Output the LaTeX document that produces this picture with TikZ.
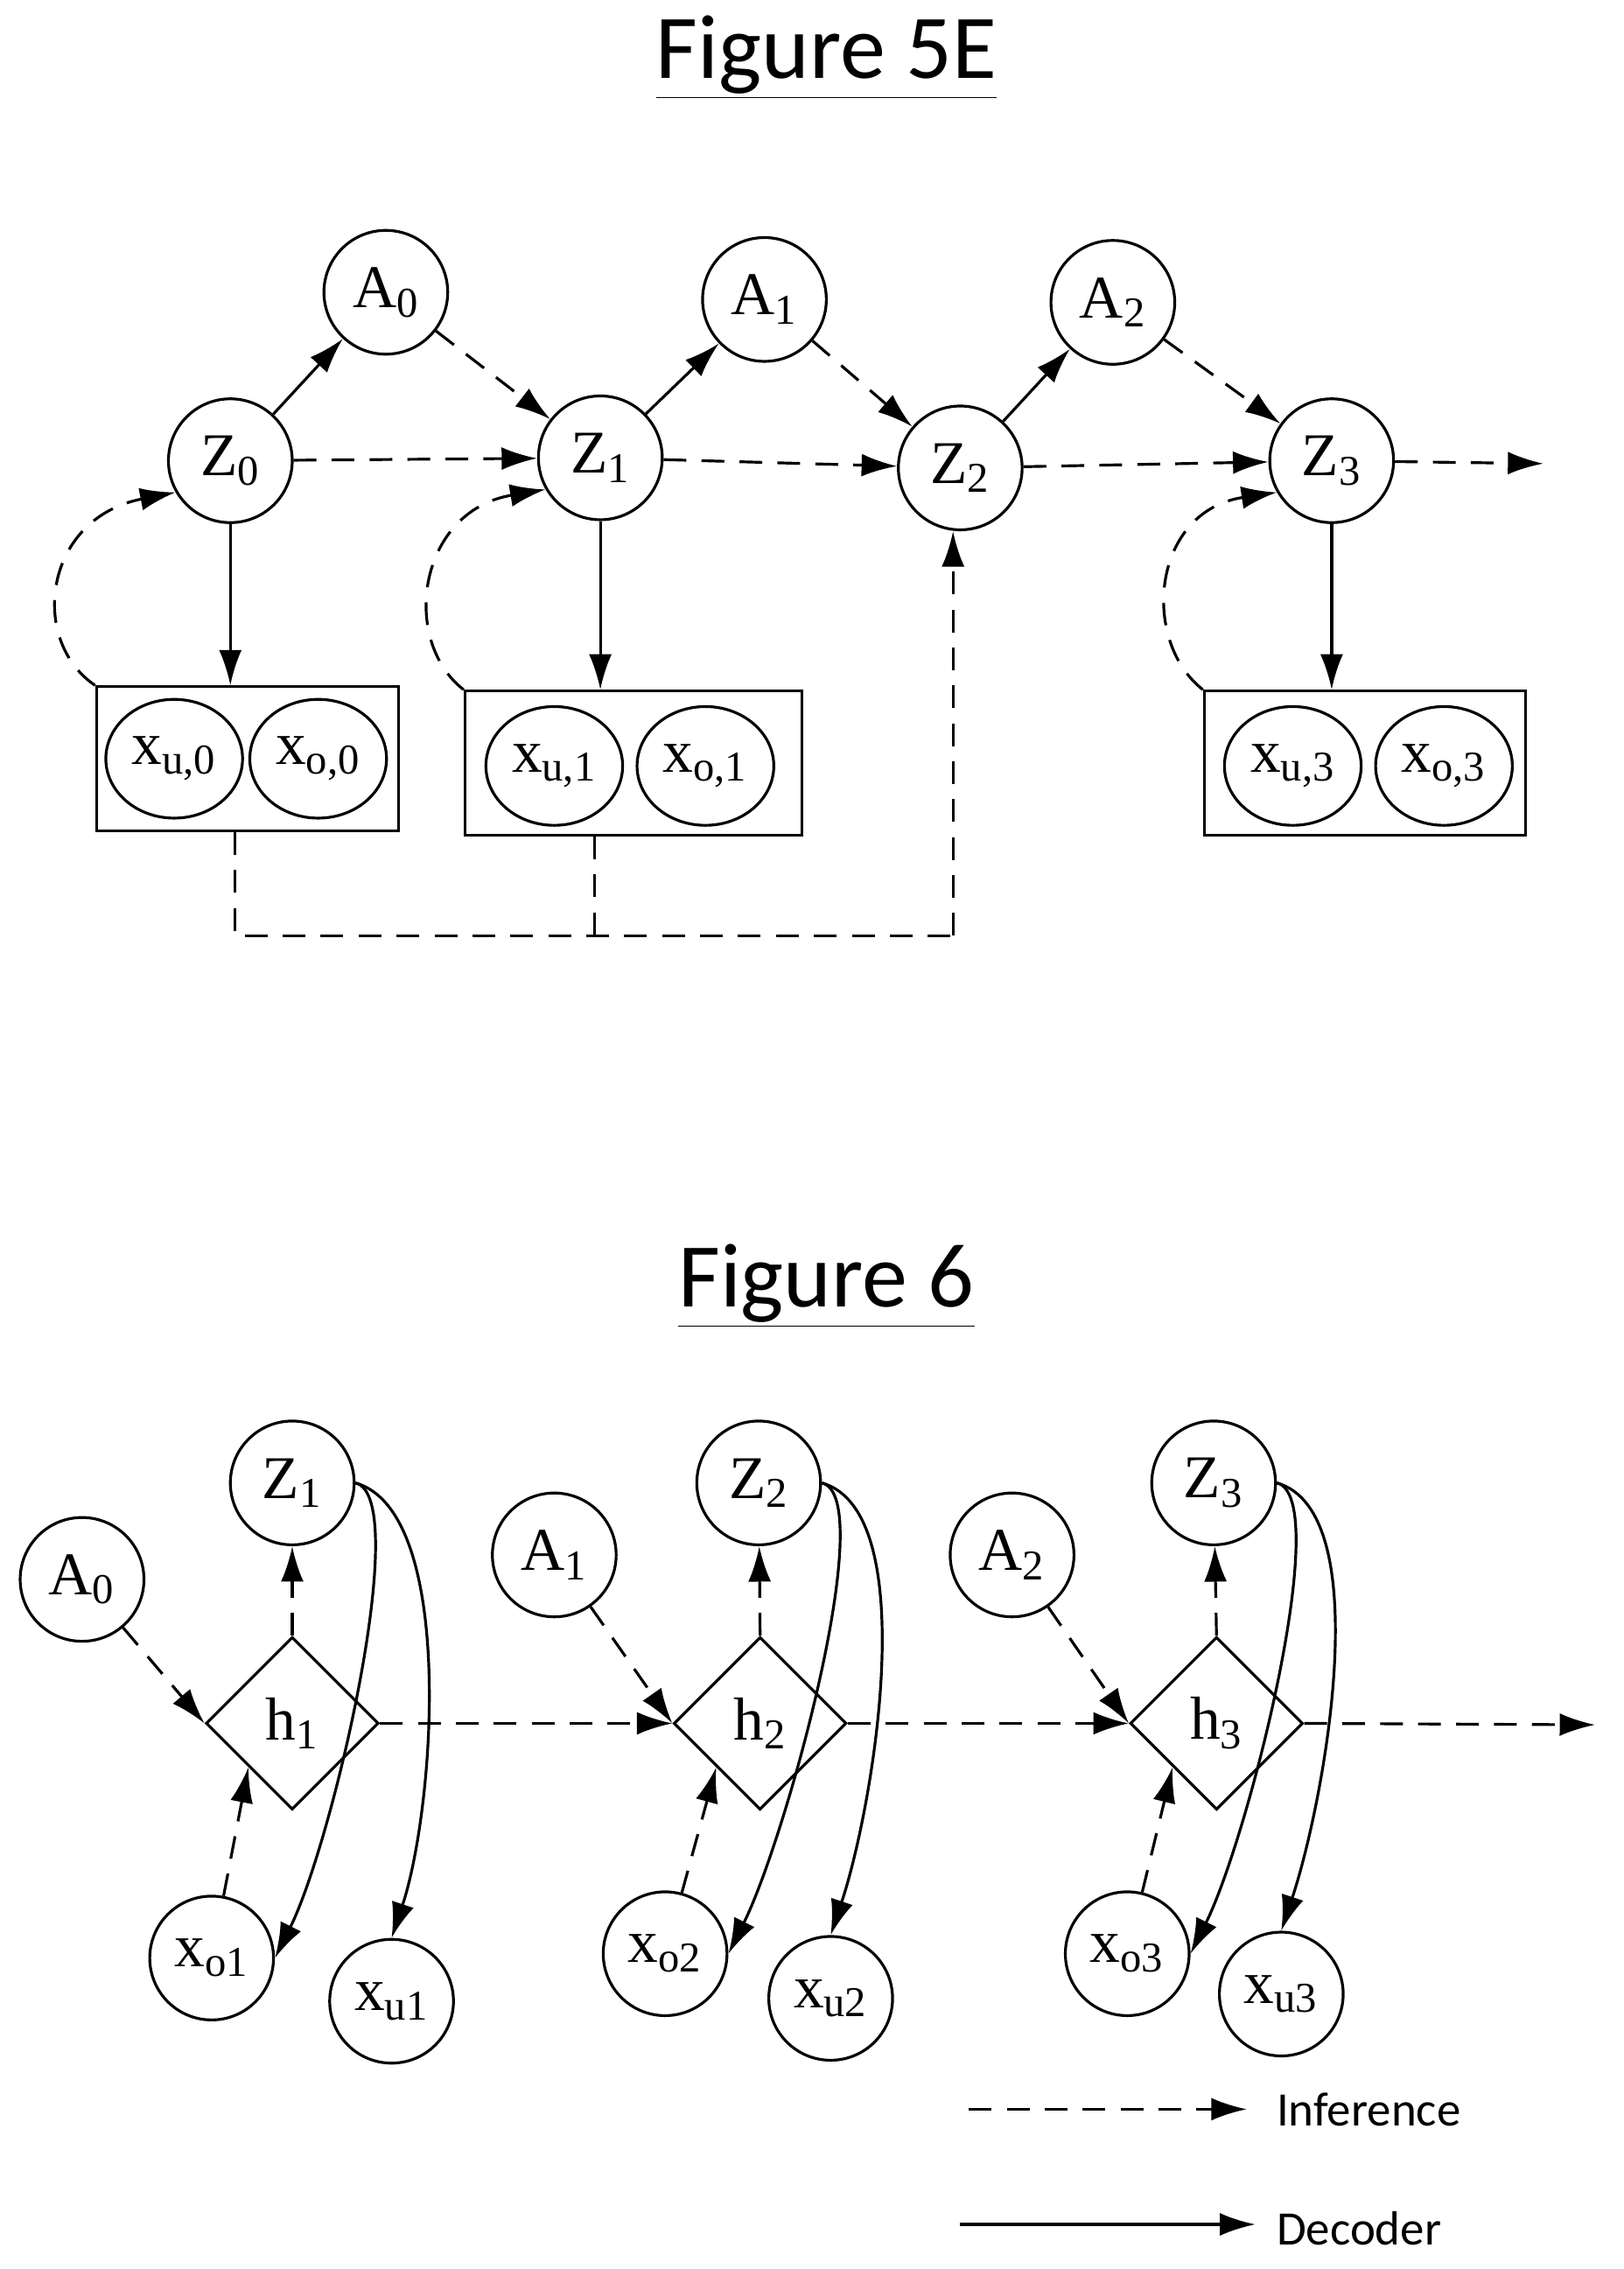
\documentclass[tikz,border=0pt]{standalone}
\usepackage{fontspec}
\setmainfont{Liberation Serif}
\newfontfamily\titlefont{Carlito}
\usetikzlibrary{arrows.meta,shapes.geometric}
\begin{document}
\begin{tikzpicture}[x=0.02cm,y=-0.02cm,line width=1.1pt,
  every node/.style={font=\fontsize{24}{28}\selectfont},
  c/.style={circle,draw,minimum size=1.72cm,inner sep=0pt},
  e/.style={ellipse,draw,minimum width=1.9cm,minimum height=1.65cm,inner sep=0pt},
  bx/.style={draw,inner sep=0pt},
  dm/.style={diamond,draw,minimum size=2.4cm,inner sep=0pt},
  inf/.style={dashed,dash pattern=on 9pt off 6pt,-{Latex[length=14pt,width=9pt]}},
  dec/.style={-{Latex[length=14pt,width=9pt]}},
  dl/.style={dashed,dash pattern=on 9pt off 6pt},
  ttl/.style={font=\titlefont\fontsize{36}{40}\selectfont}]
\useasboundingbox (0,0) rectangle (1128,1576);
% Figure 5E
\node[ttl] (t1) at (574,40) {\underline{Figure 5E}};
\node[c] (A0) at (268,203) {A\textsubscript{0}};
\node[c] (A1) at (531,208) {A\textsubscript{1}};
\node[c] (A2) at (773,210) {A\textsubscript{2}};
\node[c] (Z0) at (160,320) {Z\textsubscript{0}};
\node[c] (Z1) at (417,318) {Z\textsubscript{1}};
\node[c] (Z2) at (667,325) {Z\textsubscript{2}};
\node[c] (Z3) at (925,320) {Z\textsubscript{3}};
\node[bx,minimum width=4.2cm,minimum height=2cm] (B0) at (172,527) {};
\node[bx,minimum width=4.68cm,minimum height=2cm] (B1) at (440,530) {};
\node[bx,minimum width=4.46cm,minimum height=2cm] (B3) at (948,530) {};
\node[e] (xu0) at (121,527) {x\textsubscript{u,0}};
\node[e] (xo0) at (221,527) {x\textsubscript{o,0}};
\node[e] (xu1) at (385,532) {x\textsubscript{u,1}};
\node[e] (xo1) at (490,532) {x\textsubscript{o,1}};
\node[e] (xu3) at (898,532) {x\textsubscript{u,3}};
\node[e] (xo3) at (1003,532) {x\textsubscript{o,3}};
\coordinate (end1) at (1072,322);
\draw[dec] (Z0) -- (A0);
\draw[dec] (Z1) -- (A1);
\draw[dec] (Z2) -- (A2);
\draw[inf] (A0) -- (Z1);
\draw[inf] (A1) -- (Z2);
\draw[inf] (A2) -- (Z3);
\draw[inf] (Z0) -- (Z1);
\draw[inf] (Z1) -- (Z2);
\draw[inf] (Z2) -- (Z3);
\draw[inf] (Z3) -- (end1);
\draw[dec] (Z0) -- (Z0 |- B0.north);
\draw[dec] (Z1) -- (Z1 |- B1.north);
\draw[dec] (Z3) -- (Z3 |- B3.north);
\draw[inf] (B0.north west) .. controls (20,445) and (30,360) .. (Z0.210);
\draw[inf] (B1.north west) .. controls (278,445) and (290,355) .. (Z1.210);
\draw[inf] (B3.north west) .. controls (792,445) and (800,355) .. (Z3.210);
\coordinate (p0) at (163,650);
\coordinate (p1) at (413,650);
\coordinate (p2) at (662,650);
\draw[dl] (B0.south -| p0) -- (p0) -- (p2);
\draw[dl] (B1.south -| p1) -- (p1);
\draw[inf] (p2) -- (Z2.south -| p2);
% Figure 6
\node[ttl] (t2) at (574,893) {\underline{Figure 6}};
\node[c] (F1) at (203,1030) {Z\textsubscript{1}};
\node[c] (F2) at (527,1030) {Z\textsubscript{2}};
\node[c] (F3) at (843,1030) {Z\textsubscript{3}};
\node[c] (G0) at (57,1097) {A\textsubscript{0}};
\node[c] (G1) at (385,1080) {A\textsubscript{1}};
\node[c] (G2) at (703,1080) {A\textsubscript{2}};
\node[dm] (h1) at (203,1197) {h\textsubscript{1}};
\node[dm] (h2) at (528,1197) {h\textsubscript{2}};
\node[dm] (h3) at (845,1197) {h\textsubscript{3}};
\node[c] (o1) at (147,1360) {x\textsubscript{o1}};
\node[c] (u1) at (272,1390) {x\textsubscript{u1}};
\node[c] (o2) at (462,1357) {x\textsubscript{o2}};
\node[c] (u2) at (577,1388) {x\textsubscript{u2}};
\node[c] (o3) at (783,1357) {x\textsubscript{o3}};
\node[c] (u3) at (890,1385) {x\textsubscript{u3}};
\coordinate (end2) at (1108,1198);
\foreach \i/\a/\o/\u in {1/G0/o1/u1,2/G1/o2/u2,3/G2/o3/u3}{
  \draw[inf] (\a) -- (h\i.west);
  \draw[inf] (h\i.north) -- (F\i);
  \draw[inf] (\o) -- (h\i.south west);
  \draw[dec] (F\i.east) .. controls +(40,10) and +(40,-80) .. (\o.east);
  \draw[dec] (F\i.east) .. controls +(70,20) and +(30,-90) .. (\u.north);
}
\draw[inf] (h1.east) -- (h2.west);
\draw[inf] (h2.east) -- (h3.west);
\draw[inf] (h3.east) -- (end2);
% legend
\coordinate (l1a) at (673,1465); \coordinate (l1b) at (866,1465);
\coordinate (l2a) at (667,1545); \coordinate (l2b) at (872,1545);
\draw[inf] (l1a) -- (l1b);
\draw[dec] (l2a) -- (l2b);
\node[anchor=west,font=\titlefont\fontsize{19}{22}\selectfont] (L1) at (880,1465) {Inference};
\node[anchor=west,font=\titlefont\fontsize{19}{22}\selectfont] (L2) at (880,1548) {Decoder};
\end{tikzpicture}
\end{document}
